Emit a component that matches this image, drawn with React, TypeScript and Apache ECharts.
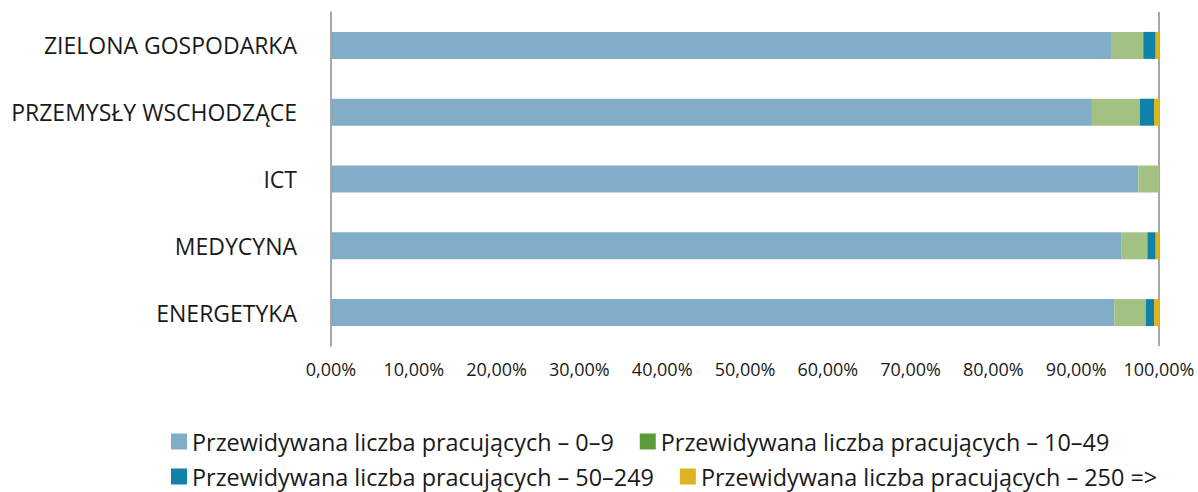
import React, { useEffect, useRef } from "react";
import * as echarts from "echarts";

const categories = [
  "ZIELONA GOSPODARKA",
  "PRZEMYSŁY WSCHODZĄCE",
  "ICT",
  "MEDYCYNA",
  "ENERGETYKA",
];
const seriesNames = [
  "Przewidywana liczba pracujących – 0–9",
  "Przewidywana liczba pracujących – 10–49",
  "Przewidywana liczba pracujących – 50–249",
  "Przewidywana liczba pracujących – 250 =>",
];
const values0to9 = [94.2, 91.9, 97.5, 95.5, 94.6];
const values10to49 = [3.9, 5.8, 2.5, 3.1, 3.8];
const values50to249 = [1.5, 1.7, 0, 1.0, 1.0];
const values250plus = [0.4, 0.6, 0, 0.4, 0.6];

const FONT = "Open Sans";

export default function App() {
  const ref = useRef<HTMLDivElement>(null);
  useEffect(() => {
    if (!ref.current) return;
    const chart = echarts.init(ref.current, undefined, { renderer: "svg" });
    const legendColors = ["#82ADC9", "#5B9B3A", "#0E82A8", "#DDB31F"];
    const barColors = ["#82ADC9", "#A3C182", "#0E82A8", "#DDB31F"];
    const allValues = [values0to9, values10to49, values50to249, values250plus];
    const series: any[] = allValues.map((vals, i) => ({
      name: seriesNames[i],
      type: "bar",
      stack: "total",
      barWidth: 27,
      z: 3,
      itemStyle: { color: legendColors[i] },
      data: vals.map((v) => ({ value: v, itemStyle: { color: barColors[i] } })),
    }));
    series[0].markLine = {
      silent: true,
      z: 1,
      symbol: ["none", "none"],
      label: { show: false },
      lineStyle: { color: "#8c8c8c", width: 1.5, type: "solid" },
      data: [{ xAxis: 100 }],
    };
    const legendBase = {
      left: 171,
      orient: "horizontal",
      padding: 0,
      itemWidth: 16,
      itemHeight: 16,
      itemGap: 26,
      icon: "rect",
      selectedMode: false,
      textStyle: { fontFamily: FONT, fontSize: 23.4, color: "#1a1a1a" },
    };
    chart.setOption({
      animation: false,
      textStyle: { fontFamily: FONT },
      grid: { left: 331, right: 39, top: 12, height: 334 },
      legend: [
        { ...legendBase, top: 430, data: [seriesNames[0], seriesNames[1]] },
        { ...legendBase, top: 465, data: [seriesNames[2], seriesNames[3]] },
      ],
      xAxis: {
        type: "value",
        min: 0,
        max: 100,
        interval: 10,
        axisLine: { show: false },
        axisTick: { show: false },
        splitLine: { show: false },
        axisLabel: {
          margin: 14,
          fontFamily: FONT,
          fontSize: 18,
          color: "#1a1a1a",
          formatter: (v: number) => v.toFixed(2).replace(".", ",") + "%",
        },
      },
      yAxis: {
        type: "category",
        inverse: true,
        data: categories,
        axisLine: { show: true, lineStyle: { color: "#8c8c8c", width: 1.5 } },
        axisTick: { show: false },
        axisLabel: {
          margin: 34,
          fontFamily: FONT,
          fontSize: 23,
          color: "#1a1a1a",
        },
      },
      series,
    });
    return () => chart.dispose();
  }, []);
  return (
    <div
      ref={ref}
      style={{ position: "fixed", left: 0, top: 0, width: 1198, height: 492, background: "#fff" }}
    />
  );
}
